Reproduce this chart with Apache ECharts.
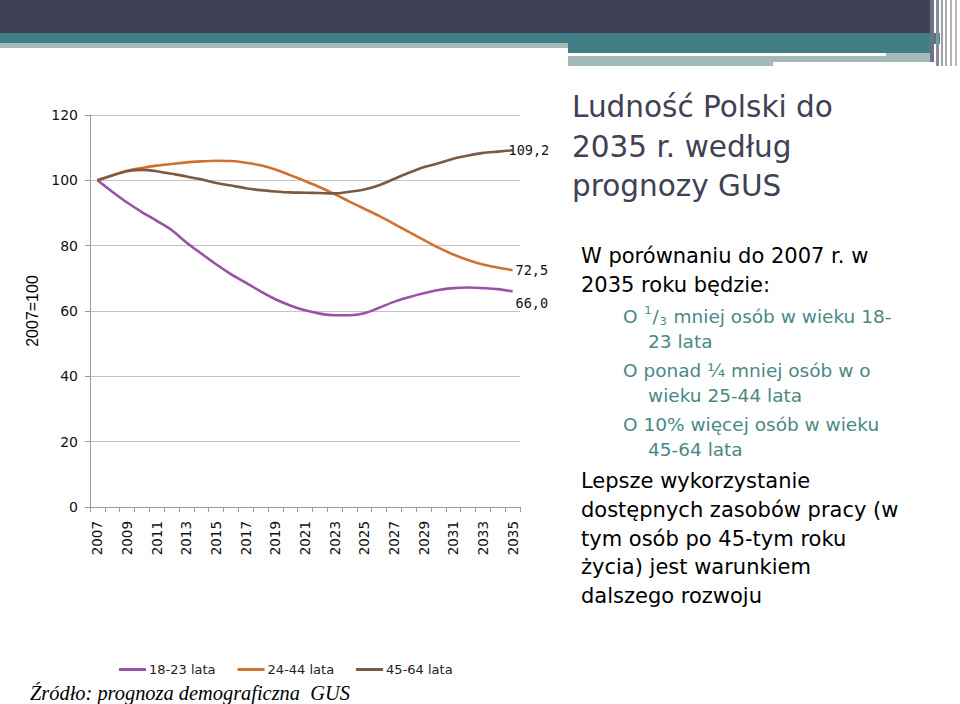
<!DOCTYPE html>
<html>
<head>
<meta charset="utf-8">
<script src="https://cdn.jsdelivr.net/npm/echarts@6/dist/echarts.min.js"></script>
<style>
html,body{margin:0;padding:0;background:#fff;}
#c{width:960px;height:704px;}
</style>
</head>
<body>
<div id="c"></div>
<script>
// ---- data ----
const years = ['2007','2008','2009','2010','2011','2012','2013','2014','2015','2016','2017','2018','2019','2020','2021','2022','2023','2024','2025','2026','2027','2028','2029','2030','2031','2032','2033','2034','2035'];
const s1823 = [100,96.5,93.2,90.3,87.6,84.8,81.0,77.6,74.3,71.3,68.7,66.0,63.6,61.7,60.2,59.2,58.7,58.7,59.3,61.0,62.8,64.2,65.4,66.4,67.0,67.2,67.0,66.7,66.0];
const s2444 = [100,101.5,102.9,103.8,104.5,105.0,105.5,105.8,106.0,105.9,105.4,104.6,103.3,101.6,99.8,97.9,95.8,93.5,91.3,89.1,86.7,84.2,81.8,79.4,77.3,75.6,74.2,73.3,72.5];
const s4564 = [100,101.5,102.8,103.2,102.8,102.0,101.2,100.3,99.2,98.4,97.6,97.0,96.6,96.3,96.2,96.1,96.0,96.5,97.2,98.5,100.4,102.3,104.0,105.2,106.6,107.6,108.4,108.8,109.2];
const seriesNames = ['18-23 lata','24-44 lata','45-64 lata'];
const yTicks = {min:0, max:120, step:20};
const yAxisName = '2007=100';

const titleLines = ['Ludność Polski do','2035 r. według','prognozy GUS'];
const introLines = ['W porównaniu do 2007 r. w','2035 roku będzie:'];
const subLines = [
  '{t|O }{sup|1}{t|/}{sub|3}{t| mniej osób w wieku 18-}',
  '{t|23 lata}',
  '{t|O ponad ¼ mniej osób w o}',
  '{t|wieku 25-44 lata}',
  '{t|O 10% więcej osób w wieku}',
  '{t|45-64 lata}'
];
const bodyLines = ['Lepsze wykorzystanie','dostępnych zasobów pracy (w','tym osób po 45-tym roku','życia) jest warunkiem','dalszego rozwoju'];
const sourceText = 'Źródło: prognoza demograficzna  GUS';

// ---- styles ----
const colors = ['#9A52A8','#D2712E','#7B5A41'];
const FONT = 'DejaVu Sans';
const TEAL = '#4A8885';

function fmt(v){ return v.toFixed(1).replace('.', ','); }

const chart = echarts.init(document.getElementById('c'), null, {renderer:'svg'});

const graphics = [
  {type:'rect', shape:{x:0,y:0,width:930,height:34}, style:{fill:'#3E4053'}, silent:true},
  {type:'rect', shape:{x:0,y:33,width:940,height:11}, style:{fill:'#427E85'}, silent:true},
  {type:'rect', shape:{x:0,y:43,width:568,height:5}, style:{fill:'#A5B8BA'}, silent:true},
  {type:'rect', shape:{x:568,y:43,width:362,height:10}, style:{fill:'#427E85'}, silent:true},
  {type:'rect', shape:{x:886,y:53,width:44,height:9}, style:{fill:'#A5B8BA'}, silent:true},
  {type:'rect', shape:{x:568,y:56,width:205,height:10}, style:{fill:'#A5B8BA'}, silent:true},
  {type:'rect', shape:{x:773,y:56,width:113,height:6}, style:{fill:'#A5B8BA'}, silent:true},
  {type:'rect', shape:{x:930,y:0,width:4,height:62}, style:{fill:'#6E7280'}, silent:true},
  {type:'rect', shape:{x:936,y:0,width:3,height:66}, style:{fill:'#8A8E98'}, silent:true},
  {type:'rect', shape:{x:941,y:0,width:2,height:66}, style:{fill:'#9DA2AA'}, silent:true},
  {type:'rect', shape:{x:945,y:0,width:2,height:66}, style:{fill:'#A7ABB2'}, silent:true},
  {type:'rect', shape:{x:950,y:0,width:2,height:66}, style:{fill:'#B0B4BA'}, silent:true},
  {type:'rect', shape:{x:955,y:0,width:2,height:66}, style:{fill:'#B8BBC0'}, silent:true}
];
const titleY = [107,147,186];
titleLines.forEach((t,i)=>{
  graphics.push({type:'text', style:{x:572, y:titleY[i], text:t, font:'29.5px "'+FONT+'"', fill:'#3F4154', verticalAlign:'middle'}});
});
const introY = [256,285];
introLines.forEach((t,i)=>{
  graphics.push({type:'text', style:{x:581, y:introY[i], text:t, font:'21px "'+FONT+'"', fill:'#000', verticalAlign:'middle'}});
});
const subY = [316,341,370,395,424,449];
const subX = [623,648,623,648,623,648];
subLines.forEach((s,i)=>{
  graphics.push({type:'text', style:{x:subX[i], y:subY[i], verticalAlign:'middle', fill:TEAL, text:s, rich:{
    t:{fontFamily:FONT, fontSize:18.5, fill:TEAL, lineHeight:22},
    sup:{fontFamily:FONT, fontSize:11, fill:TEAL, lineHeight:22, verticalAlign:'top', padding:[0,1,0,1]},
    sub:{fontFamily:FONT, fontSize:11, fill:TEAL, lineHeight:22, verticalAlign:'bottom', padding:[6,1,0,1]}
  }}});
});
const bodyY = [481,510,539,567,596];
bodyLines.forEach((t,i)=>{
  graphics.push({type:'text', style:{x:581, y:bodyY[i], text:t, font:'21px "'+FONT+'"', fill:'#000', verticalAlign:'middle'}});
});
graphics.push({type:'text', style:{x:30, y:693, text:sourceText, font:'italic 20.4px "Liberation Serif"', fill:'#000', verticalAlign:'middle'}});

function endLbl(v, off){
  return {show:true, formatter:()=>fmt(v), offset:off, distance:4, fontFamily:'DejaVu Sans Mono', fontSize:13.5, color:'#111'};
}

chart.setOption({
  animation:false,
  backgroundColor:'#fff',
  color:colors,
  grid:{left:90, right:440, top:115, bottom:197, containLabel:false},
  legend:{
    data:seriesNames, left:114, top:658, itemWidth:27, itemHeight:3, itemGap:22, icon:'rect',
    textStyle:{fontFamily:FONT, fontSize:13, color:'#222', padding:[0,0,0,-2]}
  },
  xAxis:{
    type:'category', data:years, boundaryGap:true,
    axisLine:{lineStyle:{color:'#9a9a9a', width:1}},
    axisTick:{show:true, interval:0, length:5, lineStyle:{color:'#9a9a9a'}},
    axisLabel:{interval:1, rotate:90, fontFamily:FONT, fontSize:13.5, color:'#111', margin:14}
  },
  yAxis:{
    type:'value', min:yTicks.min, max:yTicks.max, interval:yTicks.step,
    name:yAxisName, nameLocation:'middle', nameGap:50, nameRotate:90,
    nameTextStyle:{fontFamily:'Liberation Sans', fontSize:16, color:'#000'},
    axisLine:{show:true, lineStyle:{color:'#9a9a9a'}},
    axisTick:{show:true, length:5, lineStyle:{color:'#9a9a9a'}},
    axisLabel:{fontFamily:FONT, fontSize:14, color:'#111', margin:12},
    splitLine:{lineStyle:{color:'#c4c4c4', width:1}}
  },
  series:[
    {name:seriesNames[0], type:'line', data:s1823, smooth:0.3, showSymbol:false, symbol:'none', lineStyle:{width:2.6}, endLabel:endLbl(s1823[s1823.length-1],[-1,12])},
    {name:seriesNames[1], type:'line', data:s2444, smooth:0.3, showSymbol:false, symbol:'none', lineStyle:{width:2.6}, endLabel:endLbl(s2444[s2444.length-1],[-1,0])},
    {name:seriesNames[2], type:'line', data:s4564, smooth:0.3, showSymbol:false, symbol:'none', lineStyle:{width:2.6}, endLabel:endLbl(s4564[s4564.length-1],[-8,0])}
  ],
  graphic:graphics
});
</script>
</body>
</html>
